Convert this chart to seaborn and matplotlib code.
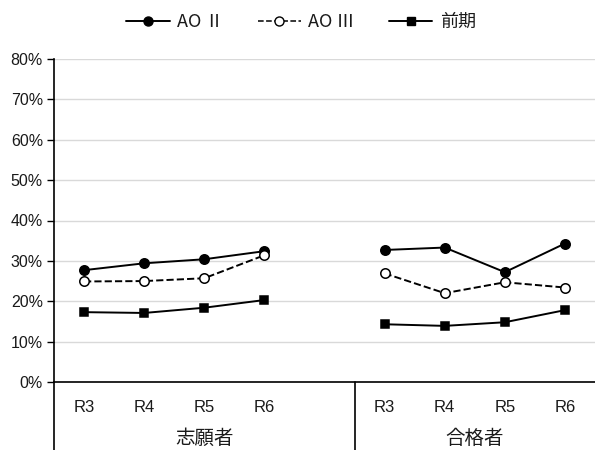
import matplotlib
matplotlib.use("Agg")
import matplotlib.pyplot as plt
import matplotlib.transforms as mtransforms
from matplotlib.lines import Line2D
import seaborn as sns
import pandas as pd

sns.set_theme(style="white")
plt.rcParams['font.family'] = ['Liberation Sans', 'Noto Sans CJK JP', 'DejaVu Sans']

# Data
years = ["R3", "R4", "R5", "R6"]
groups = ["志願者", "合格者"]
series_names = ["AO Ⅱ", "AO Ⅲ", "前期"]

ao2_applicants = [27.7, 29.4, 30.4, 32.4]
ao3_applicants = [24.9, 25.0, 25.7, 31.4]
zenki_applicants = [17.3, 17.1, 18.4, 20.3]

ao2_passed = [32.7, 33.3, 27.2, 34.3]
ao3_passed = [26.9, 22.0, 24.7, 23.4]
zenki_passed = [14.3, 13.9, 14.8, 17.8]

values = {
    ("AO Ⅱ", "志願者"): ao2_applicants,
    ("AO Ⅲ", "志願者"): ao3_applicants,
    ("前期", "志願者"): zenki_applicants,
    ("AO Ⅱ", "合格者"): ao2_passed,
    ("AO Ⅲ", "合格者"): ao3_passed,
    ("前期", "合格者"): zenki_passed,
}

# category slot positions: four years per group, one empty slot after the first group
group_offset = {"志願者": 0, "合格者": 5}
rows = []
for (s, g), vals in values.items():
    for i, (yr, v) in enumerate(zip(years, vals)):
        rows.append({"series": s, "group": g, "pos": group_offset[g] + i,
                     "year": yr, "value": v})
df = pd.DataFrame(rows)

styles = {
    "AO Ⅱ": dict(marker="o", linestyle="-", mfc="black", ms=6.8),
    "AO Ⅲ": dict(marker="o", linestyle="--", mfc="white", ms=6.8),
    "前期": dict(marker="s", linestyle="-", mfc="black", ms=6.4),
}

fig = plt.figure(figsize=(5.95, 4.5), dpi=100)
ax = fig.add_axes([54 / 595, 68 / 450, 541 / 595, 323 / 450])

for s in series_names:
    st = styles[s]
    sub = df[df["series"] == s]
    sns.lineplot(data=sub, x="pos", y="value", units="group", estimator=None,
                 ax=ax, color="black", linewidth=1.4, linestyle=st["linestyle"],
                 marker=st["marker"], markersize=st["ms"],
                 markerfacecolor=st["mfc"], markeredgecolor="black",
                 markeredgewidth=1.1, legend=False, zorder=3)

ax.set_xlim(-0.5, 8.5)
ax.set_ylim(0, 80)
ax.set_yticks(range(0, 81, 10))
ax.set_yticklabels([f"{v}%" for v in range(0, 81, 10)], fontsize=11.5, color="#1a1a1a")
ax.yaxis.grid(True, color="#d9d9d9", linewidth=1.0)
ax.set_axisbelow(True)

xpos = [0, 1, 2, 3, 5, 6, 7, 8]
ax.set_xticks(xpos)
ax.set_xticklabels(years * 2, fontsize=12, color="#1a1a1a")
ax.tick_params(axis="x", length=0, pad=13)
ax.tick_params(axis="y", length=5, width=1, color="black", left=True, pad=3)
ax.set_xlabel("")
ax.set_ylabel("")

for side in ["top", "right"]:
    ax.spines[side].set_visible(False)
for side in ["left", "bottom"]:
    ax.spines[side].set_color("black")
    ax.spines[side].set_linewidth(1.2)

# group separators reaching down to the bottom edge
below = -68 / 323
trans = mtransforms.blended_transform_factory(ax.transData, ax.transAxes)
ax.plot([0, 0], [0, below], transform=ax.transAxes, color="black",
        linewidth=1.2, clip_on=False)
ax.plot([4.5, 4.5], [0, below], transform=trans, color="black",
        linewidth=1.2, clip_on=False)

# group labels
for g, center in [("志願者", 2.0), ("合格者", 6.5)]:
    ax.text(center, -56 / 323, g, transform=trans, ha="center", va="center",
            fontsize=14, color="#1a1a1a", family=['Noto Sans CJK JP'])

handles = [
    Line2D([], [], color="black", linewidth=1.4, linestyle="-", marker="o",
           markersize=6.5, markerfacecolor="black", markeredgecolor="black"),
    Line2D([], [], color="black", linewidth=1.1, linestyle="--", marker="o",
           markersize=6.5, markerfacecolor="white", markeredgecolor="black"),
    Line2D([], [], color="black", linewidth=1.4, linestyle="-", marker="s",
           markersize=6.2, markerfacecolor="black", markeredgecolor="black"),
]
leg = fig.legend(handles, series_names, loc="center", ncol=3, frameon=False,
                 bbox_to_anchor=(301 / 595, 1 - 22 / 450),
                 prop={"family": ["Noto Sans CJK JP"], "size": 13},
                 handlelength=2.4, columnspacing=1.9, handletextpad=0.4,
                 labelcolor="#1a1a1a")

fig.savefig("out.png", dpi=100)
